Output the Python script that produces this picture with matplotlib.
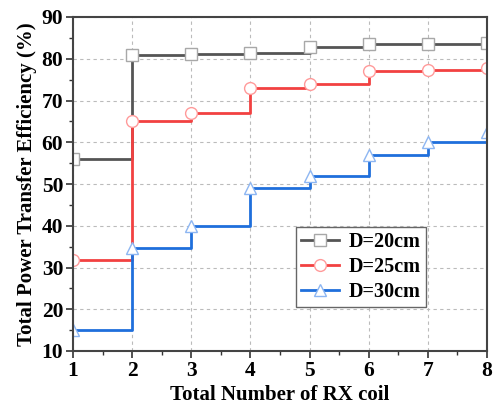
import matplotlib

matplotlib.use("Agg")

import matplotlib.pyplot as plt

coils = [1, 2, 3, 4, 5, 6, 7, 8]
eff_20cm = [56.0, 81.0, 81.2, 81.4, 82.9, 83.5, 83.5, 83.7]
eff_25cm = [31.7, 65.0, 67.0, 73.0, 74.0, 77.0, 77.3, 77.8]
eff_30cm = [15.0, 34.7, 40.0, 49.0, 52.0, 57.0, 60.0, 62.5]
labels = ["D=20cm", "D=25cm", "D=30cm"]

plt.rcParams["font.family"] = ["Liberation Serif", "DejaVu Serif"]
plt.rcParams["font.weight"] = "bold"

fig = plt.figure(figsize=(4.94, 4.05), dpi=100)
ax = fig.add_axes([73 / 494, 1 - 351 / 405, 414 / 494, 334 / 405])

styles = [
    ("#555555", "#a8a8a8", "s"),
    ("#f24141", "#ff9a9a", "o"),
    ("#1f6fdc", "#8db6f2", "^"),
]
for vals, lab, (lc, mc, mk) in zip([eff_20cm, eff_25cm, eff_30cm], labels, styles):
    ax.plot(coils, vals, drawstyle="steps-post", color=lc, lw=2.0,
            marker=mk, markersize=8.5, markerfacecolor="white",
            markeredgecolor=mc, markeredgewidth=1.0, label=lab)

ax.set_xlim(1, 8)
ax.set_ylim(10, 90)
ax.set_xticks(range(1, 9))
ax.set_yticks(range(10, 91, 10))
ax.set_xticks([1.5 + i for i in range(7)], minor=True)
ax.set_yticks([15 + 10 * i for i in range(8)], minor=True)
ax.tick_params(which="major", direction="out", length=5, width=1.2,
               color="#333333", labelsize=15.5, pad=2)
ax.tick_params(which="minor", direction="out", length=3, width=1.0,
               color="#333333")
for lbl in ax.get_xticklabels() + ax.get_yticklabels():
    lbl.set_fontweight("bold")
for sp in ax.spines.values():
    sp.set_linewidth(1.5)
    sp.set_color("#444444")

ax.grid(True, which="major", linestyle=(0, (3, 3)), color="#bbbbbb", lw=0.8)
ax.set_axisbelow(True)

ax.set_xlabel("Total Number of RX coil", fontsize=15, fontweight="bold", labelpad=3)
ax.set_ylabel("Total Power Transfer Efficiency (%)", fontsize=15,
              fontweight="bold", labelpad=3)

leg = ax.legend(loc="upper left", bbox_to_anchor=(0.539, 0.371), fontsize=14.5,
                fancybox=False, framealpha=1, edgecolor="#666666",
                handlelength=1.9, borderpad=0.25, labelspacing=0.25,
                handletextpad=0.45, borderaxespad=0)
leg.get_frame().set_linewidth(1.0)
for t in leg.get_texts():
    t.set_fontweight("bold")

fig.savefig("out.png", dpi=100)
plt.close(fig)
